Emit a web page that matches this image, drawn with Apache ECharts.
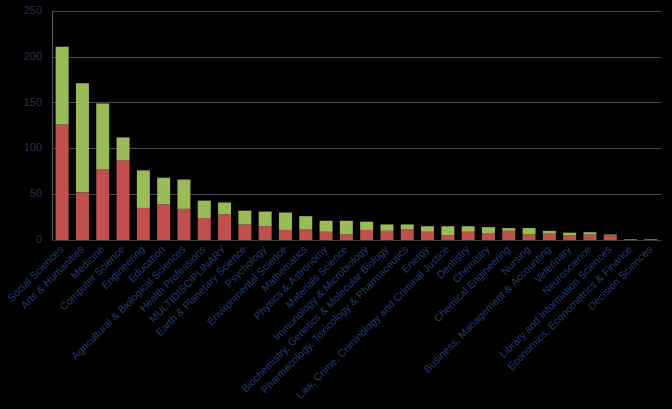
<!DOCTYPE html>
<html>
<head>
<meta charset="utf-8">
<script src="https://cdn.jsdelivr.net/npm/echarts@6/dist/echarts.min.js"></script>
<style>
html,body{margin:0;padding:0;background:#000;}
#c{width:672px;height:409px;}
</style>
</head>
<body>
<div id="c"></div>
<script>
const categories = [
  "Social Sciences","Arts & Humanities","Medicine","Computer Science","Engineering","Education",
  "Agricultural & Biological Sciences","Health Professions","MULTIDISCIPLINARY","Earth & Planetary Science",
  "Psychology","Environmental Science","Mathematics","Physics & Astronomy","Materials Science",
  "Immunology & Microbiology","Biochemistry, Genetics & Molecular Biology","Pharmacology, Toxicology & Pharmaceutics",
  "Energy","Law, Crime, Criminology and Criminal Justice","Dentistry","Chemistry","Chemical Engineering",
  "Nursing","Business, Management & Accounting","Veterinary","Neuroscience","Library and Information Sciences",
  "Economics, Econometrics & Finance","Decision Sciences"
];
const redValues = [126,52,77,87,35,39,34,24,28,17,15,11,12,9,6,11,10,12,9,5,9,7,10,6,7,5,6,5,0.5,0.5];
const greenValues = [85,119,72,25,41,29,32,19,13,15,16,19,14,12,15,9,7,5,6,10,6,7,3,7,3,3,2.5,1,0.5,0.5];
const yTicks = {min:0, max:250, interval:50};

const chart = echarts.init(document.getElementById('c'));
chart.setOption({
  backgroundColor:'#000',
  animation:false,
  grid:{left:52, right:11, top:11, bottom:169},
  xAxis:{
    type:'category',
    data:categories,
    axisLine:{lineStyle:{color:'#3a3a3a'}},
    axisTick:{show:false},
    axisLabel:{rotate:45, interval:0, color:'#243f72', fontFamily:'Liberation Sans', fontSize:10.5, margin:8}
  },
  yAxis:{
    type:'value',
    min:yTicks.min, max:yTicks.max, interval:yTicks.interval,
    axisLine:{show:true, lineStyle:{color:'#5a5a5a'}},
    axisTick:{show:false},
    splitLine:{lineStyle:{color:'#4a4a4a', width:1}},
    axisLabel:{color:'#263553', fontFamily:'Liberation Sans', fontSize:11, margin:10}
  },
  series:[
    {type:'bar', stack:'a', data:redValues, barCategoryGap:'36%', itemStyle:{color:'#c0504d'}},
    {type:'bar', stack:'a', data:greenValues, itemStyle:{color:'#9bbb59'}}
  ]
});
</script>
</body>
</html>
